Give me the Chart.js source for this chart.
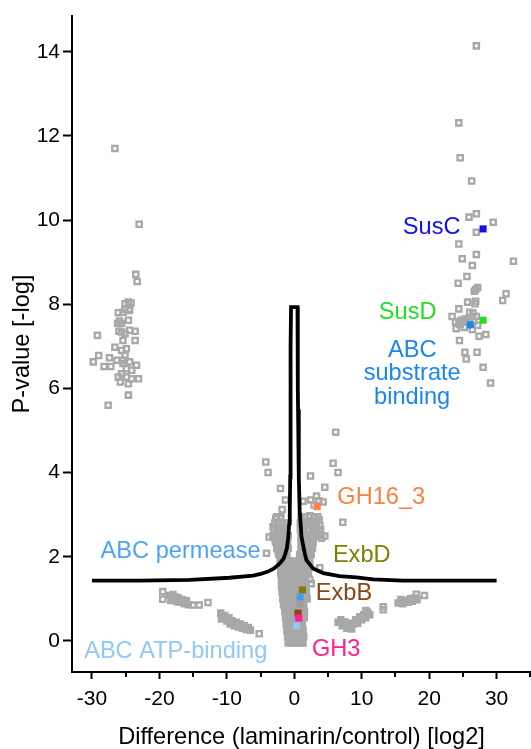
<!DOCTYPE html>
<html>
<head>
<meta charset="utf-8">
<script src="https://cdn.jsdelivr.net/npm/chart.js@4.4.1/dist/chart.umd.min.js"></script>
<style>
  html, body { margin: 0; padding: 0; background: #fff; }
</style>
</head>
<body>
<canvas id="volcanoChart" width="531" height="749"></canvas>
<script>
// Grey proteins: [difference log2, p-value -log]
const rightCluster = [
  [27.0,14.14],[24.4,12.31],[24.6,11.48],[26.3,10.93],[25.9,10.07],[27.0,10.15],[29.5,9.95],
  [27.0,9.71],[24.4,9.43],[24.9,9.08],[27.0,9.18],[26.4,8.92],[32.5,9.02],[25.6,8.66],
  [24.3,8.50],[26.9,8.35],[27.2,8.40],[26.7,8.31],[31.4,8.25],[30.9,8.09],[25.7,8.05],
  [26.9,8.07],[26.8,8.01],[24.4,7.89],[26.0,7.81],[26.5,7.79],[23.4,7.71],[27.0,7.71],
  [24.7,7.62],[25.0,7.58],[25.3,7.65],[24.4,7.55],[25.5,7.60],[23.9,7.58],[24.6,7.52],
  [25.8,7.66],[26.0,7.55],[26.6,7.60],[25.2,7.45],[24.0,7.42],[26.4,7.40],[27.2,7.50],
  [27.4,7.24],[28.4,7.28],[24.5,7.14],[25.3,6.86],[25.5,6.70],[27.1,6.86],[28.0,6.50],
  [29.1,6.13]
];
const leftCluster = [
  [-26.6,11.70],[-23.0,9.90],[-23.5,8.71],[-23.3,8.54],[-25.1,8.01],[-24.6,8.05],[-24.2,8.03],
  [-24.5,7.85],[-25.4,7.81],[-26.1,7.80],[-25.1,7.88],[-24.4,7.88],[-24.6,7.62],[-25.6,7.54],
  [-26.2,7.55],[-25.9,7.60],[-26.0,7.36],[-24.4,7.38],[-23.6,7.36],[-25.6,7.34],[-25.1,7.30],
  [-23.6,7.14],[-25.4,7.14],[-26.6,6.98],[-24.9,6.94],[-25.6,6.90],[-25.1,6.79],[-24.4,6.63],
  [-23.4,6.55],[-25.4,6.59],[-24.9,6.47],[-24.1,6.43],[-25.6,6.35],[-24.9,6.27],[-24.1,6.23],
  [-23.1,6.23],[-24.6,6.11],[-24.6,5.84],[-26.1,6.27],[-25.8,6.15],[-27.6,5.60],[-29.2,7.26],
  [-29.0,6.78],[-27.4,6.73],[-29.8,6.63],[-28.2,6.52],[-27.2,6.52],[-26.3,6.67],[-25.5,6.66]
];
const centerScatter = [
  [6.15,4.96],[-4.22,4.25],[-3.88,4.00],[5.75,4.22],[6.49,4.00],[2.4,3.92],[4.52,3.65],
  [-2.04,3.62],[-1.3,3.35],[-1.8,3.12],[1.3,3.32],[2.44,3.35],[3.29,3.44],[3.63,3.33],
  [4.27,3.30],[2.94,3.23],[2.3,2.97],[3.04,2.95],[3.68,2.87],[2.3,2.85],[1.7,2.75],
  [2.79,2.75],[3.78,2.75],[2.05,2.63],[3.04,2.63],[3.78,2.59],[2.3,2.49],[3.29,2.49],
  [4.03,2.44],[4.52,2.49],[1.56,2.40],[2.79,2.36],[7.2,2.82],[-2.74,2.91],[-2.04,2.91],
  [-2.4,2.81],[-3.14,2.71],[-2.15,2.70],[-1.66,2.59],[-3.73,2.47],[-2.89,2.44],[-2.25,2.47],
  [-1.9,2.36],[-1.9,2.20],[-2.4,2.12],[-1.41,2.0],[-4.12,2.08],[3.78,1.74],[2.3,1.46],
  [2.52,1.36],
  [-2.6,2.95],[-2.0,2.95],[1.0,2.95],[1.6,2.95],[2.2,2.95],[2.9,2.95],[3.5,2.95],
  [-2.9,2.8],[-2.3,2.8],[-1.7,2.8],[-1.1,2.8],[0.9,2.8],[1.5,2.8],[2.1,2.8],[2.7,2.8],[3.3,2.8],
  [-3.0,2.65],[-2.4,2.65],[-1.8,2.65],[-1.2,2.65],[0.9,2.65],[1.5,2.65],[2.1,2.65],[2.7,2.65],
  [3.3,2.65],[3.9,2.65],
  [-19.5,1.17],[-19.5,0.99],[-15.0,0.85],[-14.1,0.85],[-12.8,0.91],[-5.2,0.17],
  [10.6,0.72],[13.2,0.81],[13.2,0.74],[18.1,1.11],[19.3,1.08]
];
// dense groups, where the open squares merge into solid grey
const centerBlob = [
  [-3.2,2.5],[-2.6,2.5],[-2.0,2.5],[-1.4,2.5],[-0.9,2.5],[1.0,2.5],[1.6,2.5],[2.2,2.5],[2.8,2.5],[3.4,2.5],
  [-2.8,2.35],[-2.2,2.35],[-1.6,2.35],[-1.0,2.35],[1.0,2.35],[1.6,2.35],[2.2,2.35],[2.8,2.35],
  [-2.6,2.2],[-2.0,2.2],[-1.4,2.2],[-0.9,2.2],[1.0,2.2],[1.6,2.2],[2.2,2.2],[2.7,2.2],
  [-2.3,2.05],[-1.7,2.05],[-1.1,2.05],[0.8,2.05],[1.4,2.05],[2.0,2.05],[2.5,2.05],
  [-2.1,1.9],[-1.5,1.9],[-0.9,1.9],[-0.3,1.9],[0.6,1.9],[1.2,1.9],[1.8,1.9],[2.3,1.9],
  [-2.0,1.75],[-1.4,1.75],[-0.8,1.75],[-0.2,1.75],[0.4,1.75],[1.0,1.75],[1.6,1.75],[2.2,1.75],
  [-2.0,1.6],[-1.4,1.6],[-0.8,1.6],[-0.2,1.6],[0.4,1.6],[1.0,1.6],[1.6,1.6],[2.1,1.6],
  [-1.9,1.45],[-1.3,1.45],[-0.7,1.45],[-0.1,1.45],[0.5,1.45],[1.1,1.45],[1.7,1.45],
  [-1.9,1.3],[-1.3,1.3],[-0.7,1.3],[-0.1,1.3],[0.5,1.3],[1.1,1.3],[1.7,1.3],
  [-1.8,1.15],[-1.2,1.15],[-0.6,1.15],[0.0,1.15],[0.6,1.15],[1.2,1.15],[1.8,1.15],
  [-1.7,1.0],[-1.1,1.0],[-0.5,1.0],[0.1,1.0],[0.7,1.0],[1.3,1.0],[1.9,1.0],
  [-1.6,0.85],[-1.0,0.85],[-0.4,0.85],[0.2,0.85],[0.8,0.85],[1.4,0.85],
  [-1.4,0.7],[-0.8,0.7],[-0.2,0.7],[0.4,0.7],[1.0,0.7],[1.5,0.7],
  [-1.3,0.55],[-0.7,0.55],[-0.1,0.55],[0.5,0.55],[1.1,0.55],[1.5,0.55],
  [-1.2,0.4],[-0.6,0.4],[0.0,0.4],[0.6,0.4],[1.2,0.4],
  [-1.1,0.25],[-0.5,0.25],[0.1,0.25],[0.7,0.25],[1.3,0.25],
  [-1.0,0.1],[-0.4,0.1],[0.2,0.1],[0.8,0.1],[1.4,0.1],
  [-0.9,-0.05],[-0.3,-0.05],[0.3,-0.05],[0.9,-0.05],[1.3,-0.05]
];
const leftBlobs = [
  [-18.5,1.08],[-18.3,0.96],[-18.0,1.10],[-17.9,0.98],[-17.6,1.04],[-17.4,0.93],[-17.2,1.02],
  [-16.9,0.92],[-16.6,0.98],[-16.3,0.88],[-16.0,0.95],[-15.7,0.86],
  [-10.9,0.66],[-10.8,0.52],[-10.3,0.60],[-10.0,0.47],[-9.7,0.55],[-9.5,0.40],[-9.2,0.48],
  [-8.9,0.36],[-8.6,0.44],[-8.3,0.33],[-8.0,0.40],[-7.7,0.30],[-7.4,0.36],[-7.1,0.27],
  [-6.8,0.32],[-6.5,0.25]
];
const rightBlobs = [
  [6.5,0.44],[6.9,0.50],[7.1,0.36],[7.5,0.45],[7.8,0.30],[8.2,0.42],[8.5,0.28],[8.8,0.40],
  [9.1,0.50],[9.4,0.42],[9.7,0.57],[10.0,0.50],[10.3,0.62],[10.6,0.55],[10.9,0.68],[11.2,0.62],
  [15.4,0.90],[15.8,0.98],[16.1,0.88],[16.5,0.96],[16.9,0.92],[17.2,1.00],[17.5,0.94],
  [17.8,1.02],[18.2,0.98]
];

// Highlighted proteins
const highlightNames = ['SusC', 'SusD', 'ABC substrate binding', 'GH16_3', 'ExbD',
  'ABC permease', 'unlabelled', 'ExbB', 'GH3', 'ABC ATP-binding'];
const highlightPoints = [[28.0,9.79],[28.0,7.62],[26.1,7.51],[3.4,3.19],[1.21,1.21],
  [0.86,1.04],[0.86,0.88],[0.56,0.66],[0.67,0.54],[0.37,0.36]];
const highlightColors = ['#1111ee', '#1fe21f', '#1a86f2', '#ff8040', '#808000',
  '#3f9cf0', '#9c9c9c', '#8a4513', '#ff1f8f', '#90c8fa'];

// Significance threshold curve (left branch up to the top, then the right branch down)
const thresholdLeft = [[-30,1.43],[-22.9,1.43],[-15.5,1.45],[-9.6,1.50],[-6.1,1.55],[-5.0,1.59],
  [-4.0,1.64],[-3.0,1.72],[-2.15,1.84],[-1.6,1.95],[-1.35,2.06],[-1.1,2.2],[-0.9,2.45],
  [-0.75,2.8],[-0.67,3.1],[-0.6,3.9],[-0.6,5.0],[-0.55,6.0],[-0.5,7.0],[-0.48,7.93]];
const thresholdRight = [[0.48,7.93],[0.5,7.0],[0.55,6.0],[0.56,5.5],[0.67,3.9],[0.8,3.1],
  [1.07,2.47],[1.55,2.08],[1.8,1.92],[2.8,1.72],[4.3,1.61],[6.7,1.54],[9.2,1.51],[11.7,1.46],
  [16.1,1.43],[22.5,1.43],[30,1.43]];

// Callout texts
const calloutTexts = [['SusC'], ['SusD'], ['ABC', 'substrate', 'binding'], ['GH16_3'], ['ExbD'],
  ['ExbB'], ['GH3'], ['ABC permease'], ['ABC ATP-binding']];
const calloutAnchors = [[20.37,9.82],[16.81,7.80],[17.48,6.90],[12.89,3.40],[10.0,2.04],
  [7.36,1.12],[6.22,-0.21],[-16.86,2.12],[-17.58,-0.26]];
const calloutColors = ['#1111ee', '#1fe21f', '#1a86f2', '#ff8040', '#808000',
  '#8a4513', '#ff1f8f', '#4da3f5', '#90c8fa'];

const xMinorTicks = [-25, -15, -5, 5, 15, 25, 35];

const FONT = '"Liberation Sans", Arial, sans-serif';
const GREY = '#a8a8a8';
const toXY = arr => arr.map(p => ({ x: p[0], y: p[1] }));

const calloutPlugin = {
  id: 'callouts',
  afterDatasetsDraw(chart) {
    const { ctx, scales: { x, y } } = chart;
    ctx.save();
    ctx.font = '23.6px ' + FONT;
    ctx.textAlign = 'center';
    ctx.textBaseline = 'middle';
    calloutTexts.forEach((lines, i) => {
      ctx.fillStyle = calloutColors[i];
      const px = x.getPixelForValue(calloutAnchors[i][0]);
      const py = y.getPixelForValue(calloutAnchors[i][1]);
      lines.forEach((line, j) => ctx.fillText(line, px, py + j * 23.4));
    });
    ctx.restore();
  }
};

// minor ticks on the x axis (every 5)
const minorTickPlugin = {
  id: 'minorTicks',
  afterDraw(chart) {
    const { ctx, scales: { x } } = chart;
    ctx.save();
    ctx.strokeStyle = '#000';
    ctx.lineWidth = 2;
    ctx.beginPath();
    xMinorTicks.forEach(v => {
      const px = Math.round(x.getPixelForValue(v));
      ctx.moveTo(px, x.top);
      ctx.lineTo(px, x.top + 5);
    });
    ctx.stroke();
    ctx.restore();
  }
};

const ctx = document.getElementById('volcanoChart').getContext('2d');
new Chart(ctx, {
  type: 'scatter',
  data: {
    datasets: [
      {
        label: 'highlighted',
        data: toXY(highlightPoints),
        pointStyle: 'rect',
        pointRadius: 5,
        pointBackgroundColor: highlightColors,
        pointBorderWidth: 0,
        order: 0
      },
      {
        label: 'threshold',
        data: toXY(thresholdLeft.concat(thresholdRight)),
        showLine: true,
        borderColor: '#000',
        borderWidth: 3.8,
        pointRadius: 0,
        tension: 0,
        order: 1
      },
      {
        label: 'proteins',
        data: toXY([].concat(leftCluster, rightCluster, centerScatter)),
        pointStyle: 'rect',
        pointRadius: 3.7,
        pointBorderWidth: 2.3,
        pointBorderColor: GREY,
        pointBackgroundColor: 'rgba(0,0,0,0)',
        order: 2
      },
      {
        label: 'proteins (dense)',
        data: toXY([].concat(centerBlob, leftBlobs, rightBlobs)),
        pointStyle: 'rect',
        pointRadius: 3.7,
        pointBorderWidth: 2.3,
        pointBorderColor: GREY,
        pointBackgroundColor: GREY,
        order: 3
      }
    ]
  },
  options: {
    responsive: false,
    animation: false,
    layout: { autoPadding: false, padding: { top: 16, right: 0, bottom: 0, left: 0 } },
    plugins: {
      legend: { display: false },
      tooltip: { enabled: false }
    },
    scales: {
      x: {
        type: 'linear',
        min: -32.96,
        max: 35.1,
        afterFit: s => { s.height = 77; s.paddingLeft = 0; s.paddingRight = 0; },
        border: { display: true, color: '#000', width: 2 },
        grid: { drawOnChartArea: false, drawTicks: true, tickLength: 7, tickColor: '#000', tickWidth: 2 },
        ticks: {
          stepSize: 10,
          includeBounds: false,
          maxRotation: 0,
          padding: 8,
          color: '#000',
          font: { size: 21, family: FONT }
        },
        title: {
          display: true,
          text: 'Difference (laminarin/control) [log2]',
          color: '#000',
          font: { size: 23.6, family: FONT, lineHeight: 1 },
          padding: 0
        }
      },
      y: {
        type: 'linear',
        min: -0.74,
        max: 14.85,
        afterFit: s => { s.width = 72; s.paddingTop = 0; s.paddingBottom = 0; },
        border: { display: true, color: '#000', width: 2 },
        grid: { drawOnChartArea: false, drawTicks: true, tickLength: 9, tickColor: '#000', tickWidth: 2 },
        ticks: {
          stepSize: 2,
          includeBounds: false,
          padding: 3,
          color: '#000',
          font: { size: 21, family: FONT }
        },
        title: {
          display: true,
          text: 'P-value [-log]',
          color: '#000',
          font: { size: 23.6, family: FONT, lineHeight: 1 },
          padding: { top: 11, bottom: 0 }
        }
      }
    }
  },
  plugins: [calloutPlugin, minorTickPlugin]
});
</script>
</body>
</html>
